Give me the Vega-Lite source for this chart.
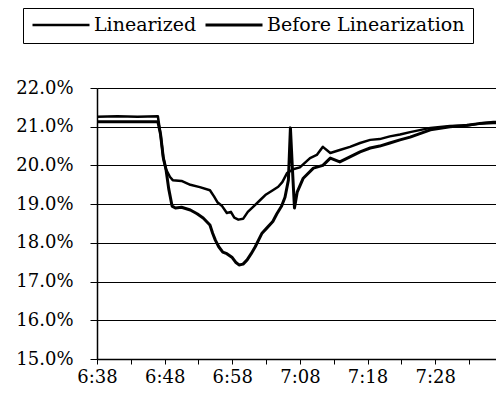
{
  "$schema": "https://vega.github.io/schema/vega-lite/v6.json",
  "autosize": {"type": "none"},
  "width": 399,
  "height": 271,
  "padding": {"left": 97, "top": 88, "right": 0, "bottom": 48},
  "background": "white",
  "config": {
    "view": {"stroke": null},
    "font": "DejaVu Serif"
  },
  "data": {
    "values": [
      {"t": 398, "v": 0.2126, "s": "Linearized"},
      {"t": 401, "v": 0.2127, "s": "Linearized"},
      {"t": 404, "v": 0.2126, "s": "Linearized"},
      {"t": 407.0, "v": 0.2127, "s": "Linearized"},
      {"t": 407.4, "v": 0.2080, "s": "Linearized"},
      {"t": 407.8, "v": 0.2020, "s": "Linearized"},
      {"t": 408.2, "v": 0.1990, "s": "Linearized"},
      {"t": 408.8, "v": 0.1970, "s": "Linearized"},
      {"t": 409.2, "v": 0.1962, "s": "Linearized"},
      {"t": 410.5, "v": 0.1960, "s": "Linearized"},
      {"t": 411.8, "v": 0.1950, "s": "Linearized"},
      {"t": 413.2, "v": 0.1944, "s": "Linearized"},
      {"t": 414.7, "v": 0.1936, "s": "Linearized"},
      {"t": 415.3, "v": 0.1920, "s": "Linearized"},
      {"t": 415.8, "v": 0.1905, "s": "Linearized"},
      {"t": 416.5, "v": 0.1895, "s": "Linearized"},
      {"t": 417.2, "v": 0.1877, "s": "Linearized"},
      {"t": 417.8, "v": 0.1880, "s": "Linearized"},
      {"t": 418.3, "v": 0.1865, "s": "Linearized"},
      {"t": 418.9, "v": 0.1860, "s": "Linearized"},
      {"t": 419.6, "v": 0.1862, "s": "Linearized"},
      {"t": 420.3, "v": 0.1880, "s": "Linearized"},
      {"t": 421.2, "v": 0.1895, "s": "Linearized"},
      {"t": 422.1, "v": 0.1910, "s": "Linearized"},
      {"t": 423.0, "v": 0.1925, "s": "Linearized"},
      {"t": 424.0, "v": 0.1936, "s": "Linearized"},
      {"t": 424.8, "v": 0.1945, "s": "Linearized"},
      {"t": 425.4, "v": 0.1957, "s": "Linearized"},
      {"t": 426.1, "v": 0.1980, "s": "Linearized"},
      {"t": 427.0, "v": 0.1990, "s": "Linearized"},
      {"t": 428.0, "v": 0.1995, "s": "Linearized"},
      {"t": 429.5, "v": 0.2019, "s": "Linearized"},
      {"t": 430.5, "v": 0.2027, "s": "Linearized"},
      {"t": 431.4, "v": 0.2048, "s": "Linearized"},
      {"t": 432.5, "v": 0.2032, "s": "Linearized"},
      {"t": 433.9, "v": 0.2040, "s": "Linearized"},
      {"t": 435.4, "v": 0.2048, "s": "Linearized"},
      {"t": 436.9, "v": 0.2058, "s": "Linearized"},
      {"t": 438.4, "v": 0.2066, "s": "Linearized"},
      {"t": 439.8, "v": 0.2068, "s": "Linearized"},
      {"t": 441.3, "v": 0.2075, "s": "Linearized"},
      {"t": 442.8, "v": 0.2080, "s": "Linearized"},
      {"t": 444.3, "v": 0.2086, "s": "Linearized"},
      {"t": 447.3, "v": 0.2097, "s": "Linearized"},
      {"t": 450.2, "v": 0.2102, "s": "Linearized"},
      {"t": 452.7, "v": 0.2103, "s": "Linearized"},
      {"t": 454.5, "v": 0.2108, "s": "Linearized"},
      {"t": 456.6, "v": 0.2112, "s": "Linearized"},
      {"t": 457.5, "v": 0.2112, "s": "Linearized"},
      {"t": 398, "v": 0.2113, "s": "Before Linearization"},
      {"t": 402, "v": 0.2113, "s": "Before Linearization"},
      {"t": 407.0, "v": 0.2113, "s": "Before Linearization"},
      {"t": 407.4, "v": 0.2080, "s": "Before Linearization"},
      {"t": 407.8, "v": 0.2020, "s": "Before Linearization"},
      {"t": 408.2, "v": 0.1990, "s": "Before Linearization"},
      {"t": 408.6, "v": 0.1940, "s": "Before Linearization"},
      {"t": 409.1, "v": 0.1895, "s": "Before Linearization"},
      {"t": 409.6, "v": 0.1890, "s": "Before Linearization"},
      {"t": 410.5, "v": 0.1892, "s": "Before Linearization"},
      {"t": 411.8, "v": 0.1885, "s": "Before Linearization"},
      {"t": 412.8, "v": 0.1875, "s": "Before Linearization"},
      {"t": 413.7, "v": 0.1864, "s": "Before Linearization"},
      {"t": 414.7, "v": 0.1846, "s": "Before Linearization"},
      {"t": 415.1, "v": 0.1825, "s": "Before Linearization"},
      {"t": 415.5, "v": 0.1807, "s": "Before Linearization"},
      {"t": 416.0, "v": 0.1790, "s": "Before Linearization"},
      {"t": 416.6, "v": 0.1776, "s": "Before Linearization"},
      {"t": 417.2, "v": 0.1772, "s": "Before Linearization"},
      {"t": 418.0, "v": 0.1762, "s": "Before Linearization"},
      {"t": 418.5, "v": 0.1750, "s": "Before Linearization"},
      {"t": 419.0, "v": 0.1743, "s": "Before Linearization"},
      {"t": 419.6, "v": 0.1745, "s": "Before Linearization"},
      {"t": 420.2, "v": 0.1756, "s": "Before Linearization"},
      {"t": 420.8, "v": 0.1772, "s": "Before Linearization"},
      {"t": 421.4, "v": 0.1790, "s": "Before Linearization"},
      {"t": 422.4, "v": 0.1825, "s": "Before Linearization"},
      {"t": 423.2, "v": 0.1840, "s": "Before Linearization"},
      {"t": 424.0, "v": 0.1855, "s": "Before Linearization"},
      {"t": 424.6, "v": 0.1875, "s": "Before Linearization"},
      {"t": 425.3, "v": 0.1895, "s": "Before Linearization"},
      {"t": 425.8, "v": 0.1918, "s": "Before Linearization"},
      {"t": 426.3, "v": 0.1962, "s": "Before Linearization"},
      {"t": 426.6, "v": 0.2097, "s": "Before Linearization"},
      {"t": 426.9, "v": 0.1990, "s": "Before Linearization"},
      {"t": 427.2, "v": 0.1890, "s": "Before Linearization"},
      {"t": 427.6, "v": 0.1931, "s": "Before Linearization"},
      {"t": 428.5, "v": 0.1967, "s": "Before Linearization"},
      {"t": 430.0, "v": 0.1993, "s": "Before Linearization"},
      {"t": 431.4, "v": 0.2000, "s": "Before Linearization"},
      {"t": 432.5, "v": 0.2019, "s": "Before Linearization"},
      {"t": 433.9, "v": 0.2009, "s": "Before Linearization"},
      {"t": 435.4, "v": 0.2022, "s": "Before Linearization"},
      {"t": 436.9, "v": 0.2035, "s": "Before Linearization"},
      {"t": 438.4, "v": 0.2045, "s": "Before Linearization"},
      {"t": 439.8, "v": 0.2050, "s": "Before Linearization"},
      {"t": 441.3, "v": 0.2058, "s": "Before Linearization"},
      {"t": 442.8, "v": 0.2066, "s": "Before Linearization"},
      {"t": 444.3, "v": 0.2073, "s": "Before Linearization"},
      {"t": 447.3, "v": 0.2092, "s": "Before Linearization"},
      {"t": 450.2, "v": 0.2100, "s": "Before Linearization"},
      {"t": 452.7, "v": 0.2104, "s": "Before Linearization"},
      {"t": 454.5, "v": 0.2108, "s": "Before Linearization"},
      {"t": 456.6, "v": 0.2110, "s": "Before Linearization"},
      {"t": 457.5, "v": 0.2111, "s": "Before Linearization"}
    ]
  },
  "mark": {"type": "line", "clip": true, "strokeJoin": "round", "strokeCap": "round"},
  "encoding": {
    "x": {
      "field": "t",
      "type": "quantitative",
      "scale": {"domain": [398, 457], "nice": false, "zero": false},
      "axis": {
        "title": null,
        "grid": false,
        "values": [398, 403, 408, 413, 418, 423, 428, 433, 438, 443, 448, 453],
        "labelExpr": "(datum.value - 398) % 10 == 0 ? floor(datum.value / 60) + ':' + (datum.value % 60 < 10 ? '0' : '') + (datum.value % 60) : ''",
        "labelFlush": false,
        "labelOverlap": false,
        "tickSize": 5,
        "tickColor": "black",
        "domainColor": "black",
        "domainWidth": 1.5,
        "labelPadding": 4,
        "labelFont": "DejaVu Serif",
        "labelFontSize": 18,
        "labelColor": "black"
      }
    },
    "y": {
      "field": "v",
      "type": "quantitative",
      "scale": {"domain": [0.15, 0.22], "nice": false, "zero": false},
      "axis": {
        "title": null,
        "values": [0.15, 0.16, 0.17, 0.18, 0.19, 0.2, 0.21, 0.22],
        "format": ".1%",
        "grid": true,
        "gridColor": "black",
        "gridWidth": 1,
        "gridOpacity": 1,
        "tickSize": 7,
        "tickColor": "black",
        "domainColor": "black",
        "domainWidth": 1.5,
        "labelPadding": 17,
        "labelFont": "DejaVu Serif",
        "labelFontSize": 18,
        "labelColor": "black"
      }
    },
    "color": {
      "field": "s",
      "type": "nominal",
      "scale": {"domain": ["Linearized", "Before Linearization"], "range": ["black", "black"]},
      "legend": {
        "title": null,
        "orient": "none",
        "legendX": -74,
        "legendY": -80,
        "direction": "horizontal",
        "strokeColor": "black",
        "fillColor": "white",
        "padding": 8,
        "clipHeight": 18,
        "symbolType": "stroke",
        "symbolSize": 3249,
        "symbolStrokeWidth": 2.5,
        "symbolStrokeColor": "black",
        "labelFont": "DejaVu Serif",
        "labelFontSize": 19,
        "labelColor": "black",
        "labelOffset": 3,
        "columnPadding": 7,
        "labelLimit": 300
      }
    },
    "strokeWidth": {
      "field": "s",
      "type": "nominal",
      "scale": {"domain": ["Linearized", "Before Linearization"], "range": [2.5, 3]},
      "legend": null
    }
  }
}
